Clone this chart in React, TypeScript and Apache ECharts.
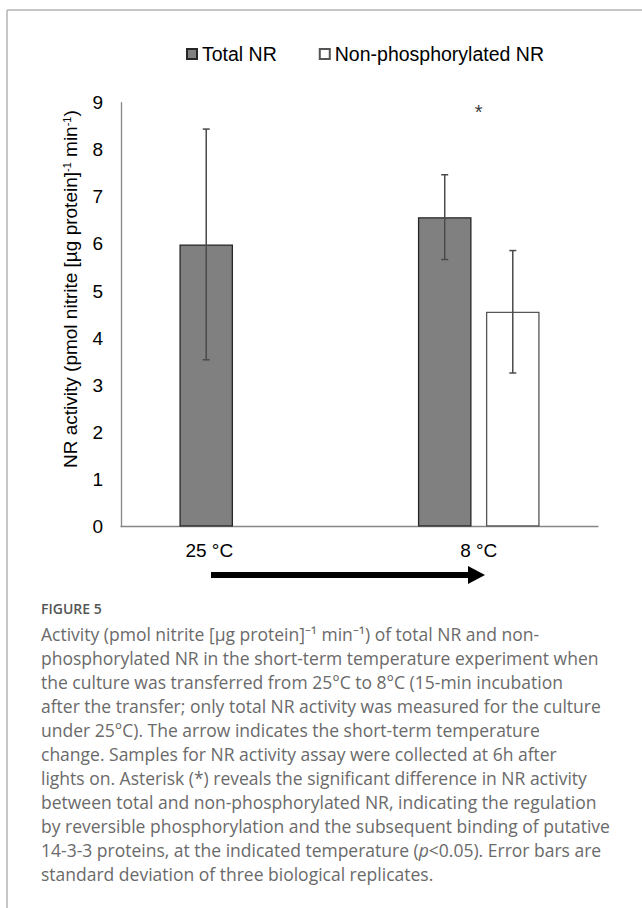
import React, { useEffect, useRef } from "react";
import * as echarts from "echarts";

// ---- data ----
const categories = ["25 °C", "8 °C"];
const seriesNames = ["Total NR", "Non-phosphorylated NR"];
const totalNR = [5.99, 6.57];
const totalNRsd = [2.45, 0.9];
const nonPhosNR: (number | null)[] = [null, 4.56];
const nonPhosNRsd: (number | null)[] = [null, 1.3];
const yMin = 0;
const yMax = 9;
const yInterval = 1;
const significance = [{ category: "8 °C", value: 8.8, label: "*" }];

const captionTitle = "FIGURE 5";
const captionLines = [
  "Activity (pmol nitrite [µg protein]⁻¹ min⁻¹) of total NR and non-",
  "phosphorylated NR in the short-term temperature experiment when",
  "the culture was transferred from 25°C to 8°C (15-min incubation",
  "after the transfer; only total NR activity was measured for the culture",
  "under 25°C). The arrow indicates the short-term temperature",
  "change. Samples for NR activity assay were collected at 6h after",
  "lights on. Asterisk (*) reveals the significant difference in NR activity",
  "between total and non-phosphorylated NR, indicating the regulation",
  "by reversible phosphorylation and the subsequent binding of putative",
  "14-3-3 proteins, at the indicated temperature ({i|p}<0.05). Error bars are",
  "standard deviation of three biological replicates.",
];

const FONT = '"Liberation Sans", Arial, sans-serif';
const CAP_FONT = '"Open Sans", sans-serif';
const BAR_GAP = 0.27;
const CAT_GAP = 0.49;

function errorSeries(values: (number | null)[], sds: (number | null)[], sign: number, name: string) {
  const data: number[][] = [];
  values.forEach((v, i) => {
    const s = sds[i];
    if (v != null && s != null) data.push([i, v - s, v + s]);
  });
  return {
    type: "custom",
    name,
    silent: true,
    z: 5,
    encode: { x: 0, y: [1, 2] },
    data,
    renderItem: (params: any, api: any) => {
      const idx = api.value(0);
      const lo = api.coord([idx, api.value(1)]);
      const hi = api.coord([idx, api.value(2)]);
      const bw = api.size([1, 0])[0];
      const barW = (bw * (1 - CAT_GAP)) / (2 + BAR_GAP);
      const cx = lo[0] + (sign * barW * (1 + BAR_GAP)) / 2;
      const cap = 3.5;
      const st = { stroke: "#4a4a4a", lineWidth: 1.5 };
      return {
        type: "group",
        children: [
          { type: "line", shape: { x1: cx, y1: lo[1], x2: cx, y2: hi[1] }, style: st },
          { type: "line", shape: { x1: cx - cap, y1: lo[1], x2: cx + cap, y2: lo[1] }, style: st },
          { type: "line", shape: { x1: cx - cap, y1: hi[1], x2: cx + cap, y2: hi[1] }, style: st },
        ],
      };
    },
  };
}

export default function App() {
  const ref = useRef<HTMLDivElement>(null);
  useEffect(() => {
    if (!ref.current) return;
    const chart = echarts.init(ref.current, null, { renderer: "svg" });

    const captionGraphics: any[] = captionLines.map((t, i) => ({
      type: "text",
      left: 41,
      top: 625 + i * 24,
      style: {
        text: t,
        fill: "#6a6a6a",
        fontSize: 17.5,
        fontFamily: CAP_FONT,
        rich: { i: { fontStyle: "italic", fontSize: 17.5, fontFamily: CAP_FONT, fill: "#6a6a6a" } },
      },
    }));

    chart.setOption({
      animation: false,
      backgroundColor: "#ffffff",
      legend: {
        data: seriesNames,
        left: 186,
        top: 44,
        padding: 0,
        itemWidth: 10,
        itemHeight: 10,
        itemGap: 42,
        icon: "rect",
        textStyle: { fontSize: 19.5, fontFamily: FONT, color: "#000" },
      },
      grid: { left: 121, right: 44, top: 102.7, bottom: 381.5 },
      xAxis: {
        type: "category",
        data: categories,
        axisLine: { lineStyle: { color: "#868686", width: 1.3 } },
        axisTick: { show: false },
        axisLabel: {
          fontSize: 19,
          fontFamily: FONT,
          color: "#000",
          margin: 14,
          formatter: (v: string) => (v === categories[0] ? `{shift|${v}}` : v),
          rich: { shift: { padding: [0, 62, 0, 0], fontSize: 19, fontFamily: FONT, color: "#000" } },
        },
      },
      yAxis: {
        type: "value",
        min: yMin,
        max: yMax,
        interval: yInterval,
        name: "NR activity (pmol nitrite [µg protein]{s|-1} min{s|-1})",
        nameLocation: "middle",
        nameGap: 41,
        nameTextStyle: {
          fontSize: 19,
          fontFamily: FONT,
          color: "#000",
          padding: [0, 0, 0, 51],
          rich: { s: { fontSize: 11, fontFamily: FONT, color: "#000", verticalAlign: "top", padding: [0, 0, 8, 0] } },
        },
        axisLine: { show: true, lineStyle: { color: "#868686", width: 1.3 } },
        axisTick: { show: false },
        splitLine: { show: false },
        axisLabel: { fontSize: 19, fontFamily: FONT, color: "#000", margin: 18 },
      },
      series: [
        {
          type: "bar",
          name: seriesNames[0],
          data: totalNR,
          barGap: `${BAR_GAP * 100}%`,
          barCategoryGap: `${CAT_GAP * 100}%`,
          itemStyle: { color: "#808080", borderColor: "#262626", borderWidth: 1.3 },
        },
        {
          type: "bar",
          name: seriesNames[1],
          data: nonPhosNR.map((v) => (v == null ? "-" : v)),
          barGap: `${BAR_GAP * 100}%`,
          barCategoryGap: `${CAT_GAP * 100}%`,
          itemStyle: { color: "#ffffff", borderColor: "#555555", borderWidth: 1.3 },
        },
        errorSeries(totalNR, totalNRsd, -1, "Total NR SD"),
        errorSeries(nonPhosNR, nonPhosNRsd, 1, "Non-phosphorylated NR SD"),
        {
          type: "scatter",
          name: "significance",
          silent: true,
          symbolSize: 0,
          data: significance.map((s) => [s.category, s.value]),
          label: {
            show: true,
            position: "inside",
            formatter: significance[0].label,
            fontSize: 20,
            fontFamily: FONT,
            color: "#000",
          },
        },
      ],
      graphic: [
        { type: "line", shape: { x1: 7, y1: 10, x2: 642, y2: 10 }, style: { stroke: "#b3b3b3", lineWidth: 1.5 } },
        { type: "line", shape: { x1: 7, y1: 10, x2: 7, y2: 908 }, style: { stroke: "#b3b3b3", lineWidth: 1.5 } },
        { type: "rect", shape: { x: 211, y: 572, width: 259, height: 6 }, style: { fill: "#000" } },
        { type: "polygon", shape: { points: [[468, 566], [485, 575], [468, 584]] }, style: { fill: "#000" } },
        {
          type: "text",
          left: 41,
          top: 601,
          style: { text: captionTitle, fill: "#555555", fontSize: 14, fontWeight: 600, fontFamily: CAP_FONT },
        },
        ...captionGraphics,
      ],
    });
    return () => chart.dispose();
  }, []);
  return <div ref={ref} style={{ position: "absolute", left: 0, top: 0, width: 642, height: 908 }} />;
}
